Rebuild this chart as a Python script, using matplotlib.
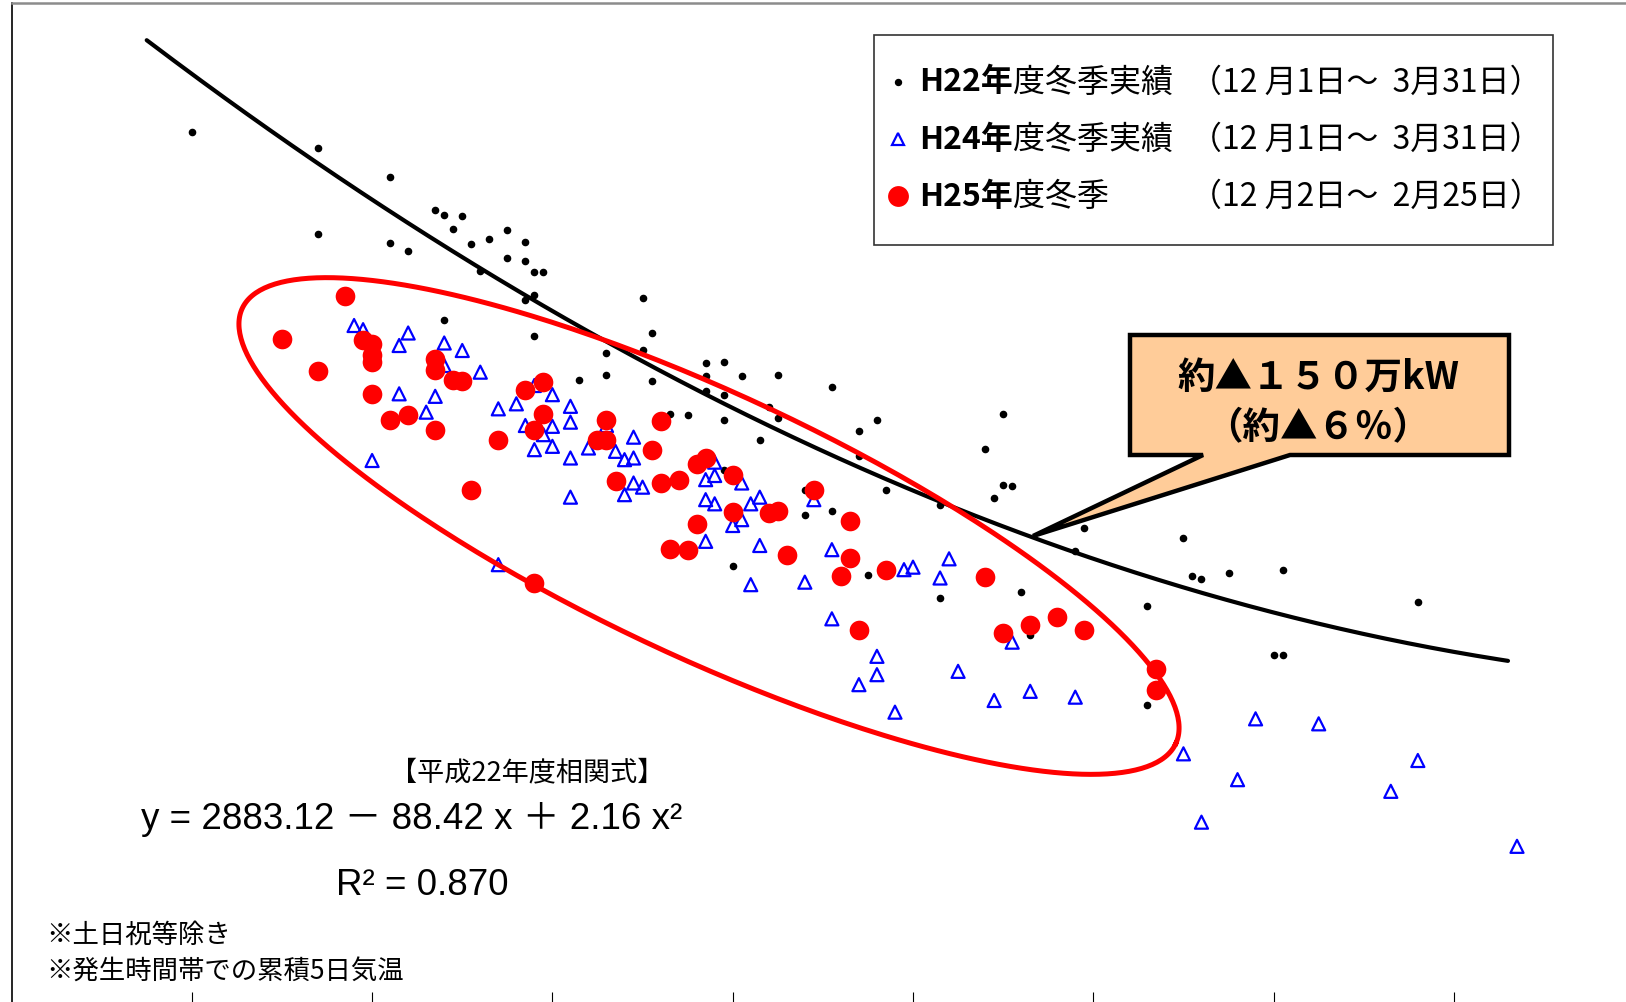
import numpy as np
import matplotlib.pyplot as plt
from matplotlib.lines import Line2D
from matplotlib.patches import Polygon, Rectangle
from matplotlib.text import Annotation

plt.rcParams['font.family'] = ['Noto Sans CJK JP', 'DejaVu Sans']

# x: 発生時間帯での累積5日気温, y: 需要 (万kW)
# H22年度冬季実績 (black dots)
h22_x = [2.0, 3.4, 4.2, 3.4, 4.2, 4.4, 4.7, 4.8, 5.0, 4.9, 5.1, 5.3, 5.5, 5.7, 5.5,
         5.7, 5.8, 5.9, 5.2, 5.8, 5.7, 4.8, 5.8, 6.6, 6.3, 6.6, 7.0, 7.1, 7.0, 7.1,
         7.7, 7.9, 7.7, 8.1, 8.5, 7.7, 7.9, 9.1, 7.3, 7.5, 7.9, 8.4, 8.5, 8.3, 9.4,
         9.6, 9.4, 9.7, 11.0, 10.8, 11.0, 11.1, 8.8, 10.9, 7.9, 8.8, 9.1, 8.0, 9.5, 10.3,
         11.2, 10.3, 11.3, 11.9, 13.0, 11.8, 13.1, 13.2, 13.5, 14.1, 12.6, 15.6, 14.0, 14.1, 12.6]
h22_y = [2645, 2626, 2591, 2523, 2512, 2502, 2552, 2546, 2545, 2529, 2511, 2517, 2528, 2513, 2494,
         2490, 2477, 2477, 2479, 2449, 2444, 2420, 2400, 2380, 2348, 2353, 2446, 2404, 2384, 2346,
         2368, 2369, 2352, 2352, 2354, 2334, 2330, 2339, 2307, 2306, 2299, 2315, 2302, 2275, 2286,
         2300, 2256, 2216, 2307, 2265, 2221, 2220, 2216, 2206, 2240, 2186, 2190, 2124, 2113, 2198,
         2093, 2086, 2042, 2170, 2158, 2142, 2112, 2109, 2116, 2119, 2076, 2081, 2018, 2017, 1958]

# H24年度冬季実績 (blue triangles)
h24_x = [3.8, 3.9, 4.4, 4.3, 4.8, 5.0, 4.8, 5.2, 4.3, 4.7, 4.6, 4.0, 5.4, 5.6, 5.8,
         6.0, 6.2, 6.2, 6.0, 5.7, 5.9, 6.0, 5.8, 6.2, 6.4, 6.6, 6.7, 6.2, 5.4, 6.9,
         6.8, 6.9, 6.9, 7.0, 6.8, 7.7, 7.8, 7.8, 8.1, 7.7, 7.8, 8.3, 8.9, 8.0, 8.1,
         8.2, 7.7, 8.3, 8.2, 8.8, 9.1, 9.1, 9.6, 9.6, 9.4, 9.8, 9.9, 10.0, 10.3, 10.4,
         11.1, 10.5, 10.9, 11.3, 11.8, 13.8, 14.5, 13.0, 13.6, 15.6, 15.3, 13.2, 16.7]
h24_y = [2413, 2408, 2404, 2389, 2392, 2383, 2365, 2357, 2331, 2328, 2309, 2251, 2313, 2319, 2341,
         2330, 2316, 2297, 2292, 2293, 2282, 2268, 2264, 2254, 2266, 2293, 2262, 2207, 2126, 2279,
         2252, 2254, 2224, 2219, 2210, 2228, 2233, 2249, 2224, 2204, 2199, 2207, 2204, 2173, 2180,
         2199, 2154, 2149, 2102, 2105, 2144, 2061, 2016, 1994, 1982, 1949, 2120, 2123, 2110, 2133,
         2033, 1998, 1963, 1974, 1967, 1941, 1935, 1899, 1868, 1891, 1854, 1817, 1788]

# H25年度冬季 (red circles)
h25_x = [3.7, 3.0, 3.9, 4.0, 4.0, 4.0, 3.4, 4.7, 4.7, 4.9, 5.0, 4.0, 4.4, 4.2, 4.7,
         5.4, 5.7, 5.9, 5.9, 5.8, 5.1, 5.8, 6.6, 6.5, 6.6, 6.7, 7.2, 7.1, 7.2, 7.4,
         7.6, 7.7, 8.0, 8.9, 7.6, 7.3, 7.5, 8.0, 8.4, 8.5, 8.6, 9.3, 9.3, 9.2, 9.7,
         9.4, 10.8, 11.0, 11.3, 11.6, 11.9, 12.7, 12.7]
h25_y = [2448, 2397, 2396, 2391, 2377, 2369, 2358, 2373, 2359, 2347, 2346, 2331, 2306, 2299, 2288,
         2276, 2336, 2345, 2307, 2288, 2215, 2104, 2300, 2276, 2276, 2226, 2298, 2264, 2224, 2227,
         2247, 2254, 2234, 2216, 2175, 2145, 2143, 2189, 2188, 2190, 2138, 2178, 2134, 2112, 2119,
         2048, 2111, 2044, 2053, 2063, 2047, 2001, 1975]

# 平成22年度相関式 y = 2883.12 - 88.42 x + 2.16 x^2
fit_coef = [2883.12, -88.42, 2.16]
fit_xmin, fit_xmax = 1.5, 16.6
x_ticks = [2, 4, 6, 8, 10, 12, 14, 16]

legend_names = [('H22年', '度冬季実績'), ('H24年', '度冬季実績'), ('H25年', '度冬季')]
legend_dates = ['（12 月1日～  3月31日）', '（12 月1日～  3月31日）', '（12 月2日～  2月25日）']

W, H = 1626, 1003
fig = plt.figure(figsize=(W / 100, H / 100), dpi=100)


def fp(x, y):
    # pixel position (top-left origin) -> figure fraction
    return np.asarray(x) / W, 1 - np.asarray(y) / H


ax = fig.add_axes([11.5 / W, -1 / H, 18 * 90.15 / W, 1000 / H])
ax.set_xlim(0, 18)
ax.set_ylim(1600, 2800)

ax.scatter(h22_x, h22_y, s=20, color='black', zorder=2)
ax.scatter(h24_x, h24_y, s=88, marker='^', facecolors='none', edgecolors='#0000ff',
           linewidths=1.6, zorder=3)
ax.scatter(h25_x, h25_y, s=200, color='#ff0000', linewidths=0, zorder=4)

xf = np.linspace(fit_xmin, fit_xmax, 300)
yf = fit_coef[0] + fit_coef[1] * xf + fit_coef[2] * xf ** 2
ax.plot(xf, yf, color='black', lw=3.0, zorder=5, solid_capstyle='round')

ax.set_xticks(x_ticks)
ax.set_yticks([])
ax.tick_params(axis='x', direction='in', length=8, width=0.8, labelbottom=False)
ax.spines['right'].set_visible(False)
ax.spines['top'].set_color('#8c8c8c')
ax.spines['top'].set_linewidth(1.8)
ax.spines['left'].set_linewidth(1.2)

# red ellipse around H25 points
t = np.linspace(0, 2 * np.pi, 400)
cx, cy, ea, eb, th = 709, 527, 515, 132, np.radians(25)
ex = cx + ea * np.cos(t) * np.cos(th) - eb * np.sin(t) * np.sin(th)
ey = cy + ea * np.cos(t) * np.sin(th) + eb * np.sin(t) * np.cos(th)
fig.add_artist(Line2D(*fp(ex, ey), color='#ff0000', lw=3.6, transform=fig.transFigure))

# legend box
lx0, ly0 = fp(874, 246)
lx1, ly1 = fp(1553, 36)
fig.add_artist(Rectangle((lx0, ly0), lx1 - lx0, ly1 - ly0, transform=fig.transFigure,
                         facecolor='white', edgecolor='#333333', lw=1.2, zorder=1))
row_y = [82.5, 139.5, 197]
marks = [dict(marker='o', markersize=4.3, color='black'),
         dict(marker='^', markersize=9, markerfacecolor='none', markeredgecolor='#0000ff',
              markeredgewidth=1.6, color='#0000ff'),
         dict(marker='o', markersize=15, color='#ff0000', markeredgewidth=0)]
for (bold, rest), date, ry, mk in zip(legend_names, legend_dates, row_y, marks):
    mx, my = fp(898, ry)
    fig.add_artist(Line2D([mx], [my], transform=fig.transFigure, linestyle='none',
                          zorder=3, **mk))
    tx, ty = fp(919, ry)
    t1 = fig.text(tx, ty, bold, fontsize=23, fontweight='bold', va='center', ha='left')
    fig.add_artist(Annotation(rest, xy=(1, 0.5), xycoords=t1, fontsize=23,
                              va='center', ha='left', zorder=3))
    dx, dy = fp(1190, ry)
    fig.text(dx, dy, date, fontsize=23, va='center', ha='left')

# callout
cverts = np.array([(1130, 336), (1509, 336), (1509, 456), (1290, 456),
                   (1033, 537), (1203, 456), (1130, 456)])
cfx, cfy = fp(cverts[:, 0], cverts[:, 1])
fig.add_artist(Polygon(np.column_stack([cfx, cfy]), closed=True, transform=fig.transFigure,
                       facecolor='#ffcc99', edgecolor='black', lw=3.2, joinstyle='miter'))
fig.text(*fp(1318, 377), '約▲１５０万kW', fontsize=27, fontweight='bold', ha='center', va='center')
fig.text(*fp(1318, 428), '（約▲６％）', fontsize=27, fontweight='bold', ha='center', va='center')

# correlation formula
fig.text(*fp(527, 773), '【平成22年度相関式】', fontsize=19.5, ha='center', va='center')
eq_font = ['Liberation Sans', 'Noto Sans CJK JP']
fig.text(*fp(412, 820), 'y = 2883.12 － 88.42 x ＋ 2.16 x²', fontsize=26.5, family=eq_font,
         ha='center', va='center')
fig.text(*fp(422, 886), 'R² = 0.870', fontsize=26.5, family=eq_font, ha='center', va='center')

fig.text(*fp(46, 935), '※土日祝等除き', fontsize=19, ha='left', va='center')
fig.text(*fp(46, 972), '※発生時間帯での累積5日気温', fontsize=19, ha='left', va='center')

fig.savefig('out.png', dpi=100)
